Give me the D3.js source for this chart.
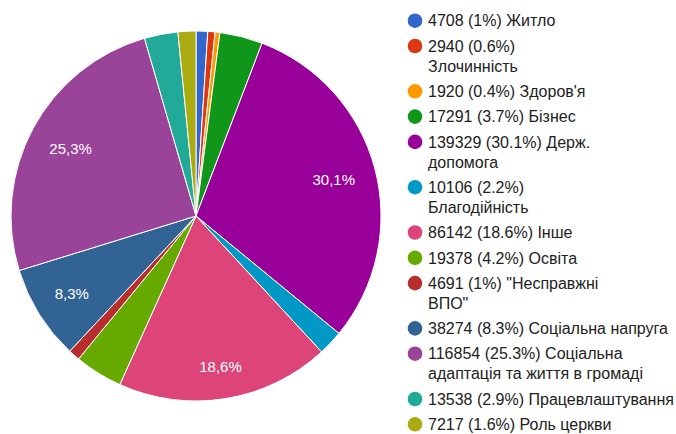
<!DOCTYPE html>
<html>
<head>
<meta charset="utf-8">
<script src="https://cdn.jsdelivr.net/npm/d3@7"></script>
<style>
  body { margin: 0; background: #fff; }
  text { font-family: Arial, "Liberation Sans", sans-serif; }
</style>
</head>
<body>
<svg id="chart" width="676" height="434"></svg>
<script>
// Categories (line breaks follow the wrapping used in the legend)
var names = ["Житло", "Злочинність", "Здоров'я", "Бізнес", "Держ.\nдопомога",
  "Благодійність", "Інше", "Освіта", "\"Несправжні\nВПО\"", "Соціальна напруга",
  "Соціальна\nадаптація та життя в громаді", "Працевлаштування", "Роль церкви"];
var values = [4708, 2940, 1920, 17291, 139329, 10106, 86142, 19378, 4691, 38274, 116854, 13538, 7217];
// names whose first part stays on the value line
var breakAfterValue = [false, true, false, false, false, true, false, false, false, false, false, false, false];
var colors = ["#3366cc", "#dc3912", "#ff9900", "#109618", "#990099", "#0099c6",
  "#dd4477", "#66aa00", "#b82e2e", "#316395", "#994499", "#22aa99", "#aaaa11"];

var W = 676, H = 434;
var cx = 196, cy = 216, R = 185;

var svg = d3.select("#chart");
var total = d3.sum(values);

function pct(v) {
  return +(v / total * 100).toFixed(1);
}

var data = values.map(function (v, i) {
  return { name: names[i], value: v, color: colors[i], idx: i };
});

var pie = d3.pie().sort(null).value(function (d) { return d.value; });
var arc = d3.arc().innerRadius(0).outerRadius(R);
var arcs = pie(data);

var g = svg.append("g").attr("transform", "translate(" + cx + "," + cy + ")");

g.selectAll("path")
  .data(arcs)
  .enter().append("path")
  .attr("d", arc)
  .attr("fill", function (d) { return d.data.color; })
  .attr("stroke", "#fff")
  .attr("stroke-width", 1);

// Slice labels: only slices big enough, pushed out as far as the box fits
var labels = g.selectAll("text.slice")
  .data(arcs.filter(function (d) { return pct(d.value) >= 5; }))
  .enter().append("text")
  .attr("class", "slice")
  .attr("fill", "#fff")
  .attr("font-size", 15)
  .attr("text-anchor", "middle")
  .text(function (d) { return String(pct(d.value)).replace(".", ",") + "%"; });

labels.each(function (d) {
  var hw = this.getComputedTextLength() / 2;
  var hh = 7;
  var a = (d.startAngle + d.endAngle) / 2;
  var s = Math.sin(a), c = -Math.cos(a);
  var dist = R;
  while (dist > 0) {
    var x = dist * s, y = dist * c;
    var fx = Math.abs(x) + hw, fy = Math.abs(y) + hh;
    if (Math.sqrt(fx * fx + fy * fy) <= R - 20) break;
    dist -= 0.5;
  }
  d3.select(this)
    .attr("x", dist * s)
    .attr("y", dist * c + 5.4);
});

// Legend
var legend = svg.append("g").attr("transform", "translate(415,0)");
var y = 20.7;
var rowGap = 25.3, lineGap = 20;

data.forEach(function (d, i) {
  var head = d.value + " (" + pct(d.value) + "%)";
  var parts = d.name.split("\n");
  var lines;
  if (breakAfterValue[i]) {
    lines = [head].concat(parts);
  } else {
    lines = [head + " " + parts[0]].concat(parts.slice(1));
  }

  legend.append("circle")
    .attr("cx", 0)
    .attr("cy", y)
    .attr("r", 7.3)
    .attr("fill", d.color);

  var t = legend.append("text")
    .attr("fill", "#222")
    .attr("font-size", 16);

  lines.forEach(function (ln, k) {
    t.append("tspan")
      .attr("x", 13)
      .attr("y", y + 5.7 + k * lineGap)
      .text(ln);
  });

  y += rowGap + (lines.length - 1) * lineGap;
});
</script>
</body>
</html>
